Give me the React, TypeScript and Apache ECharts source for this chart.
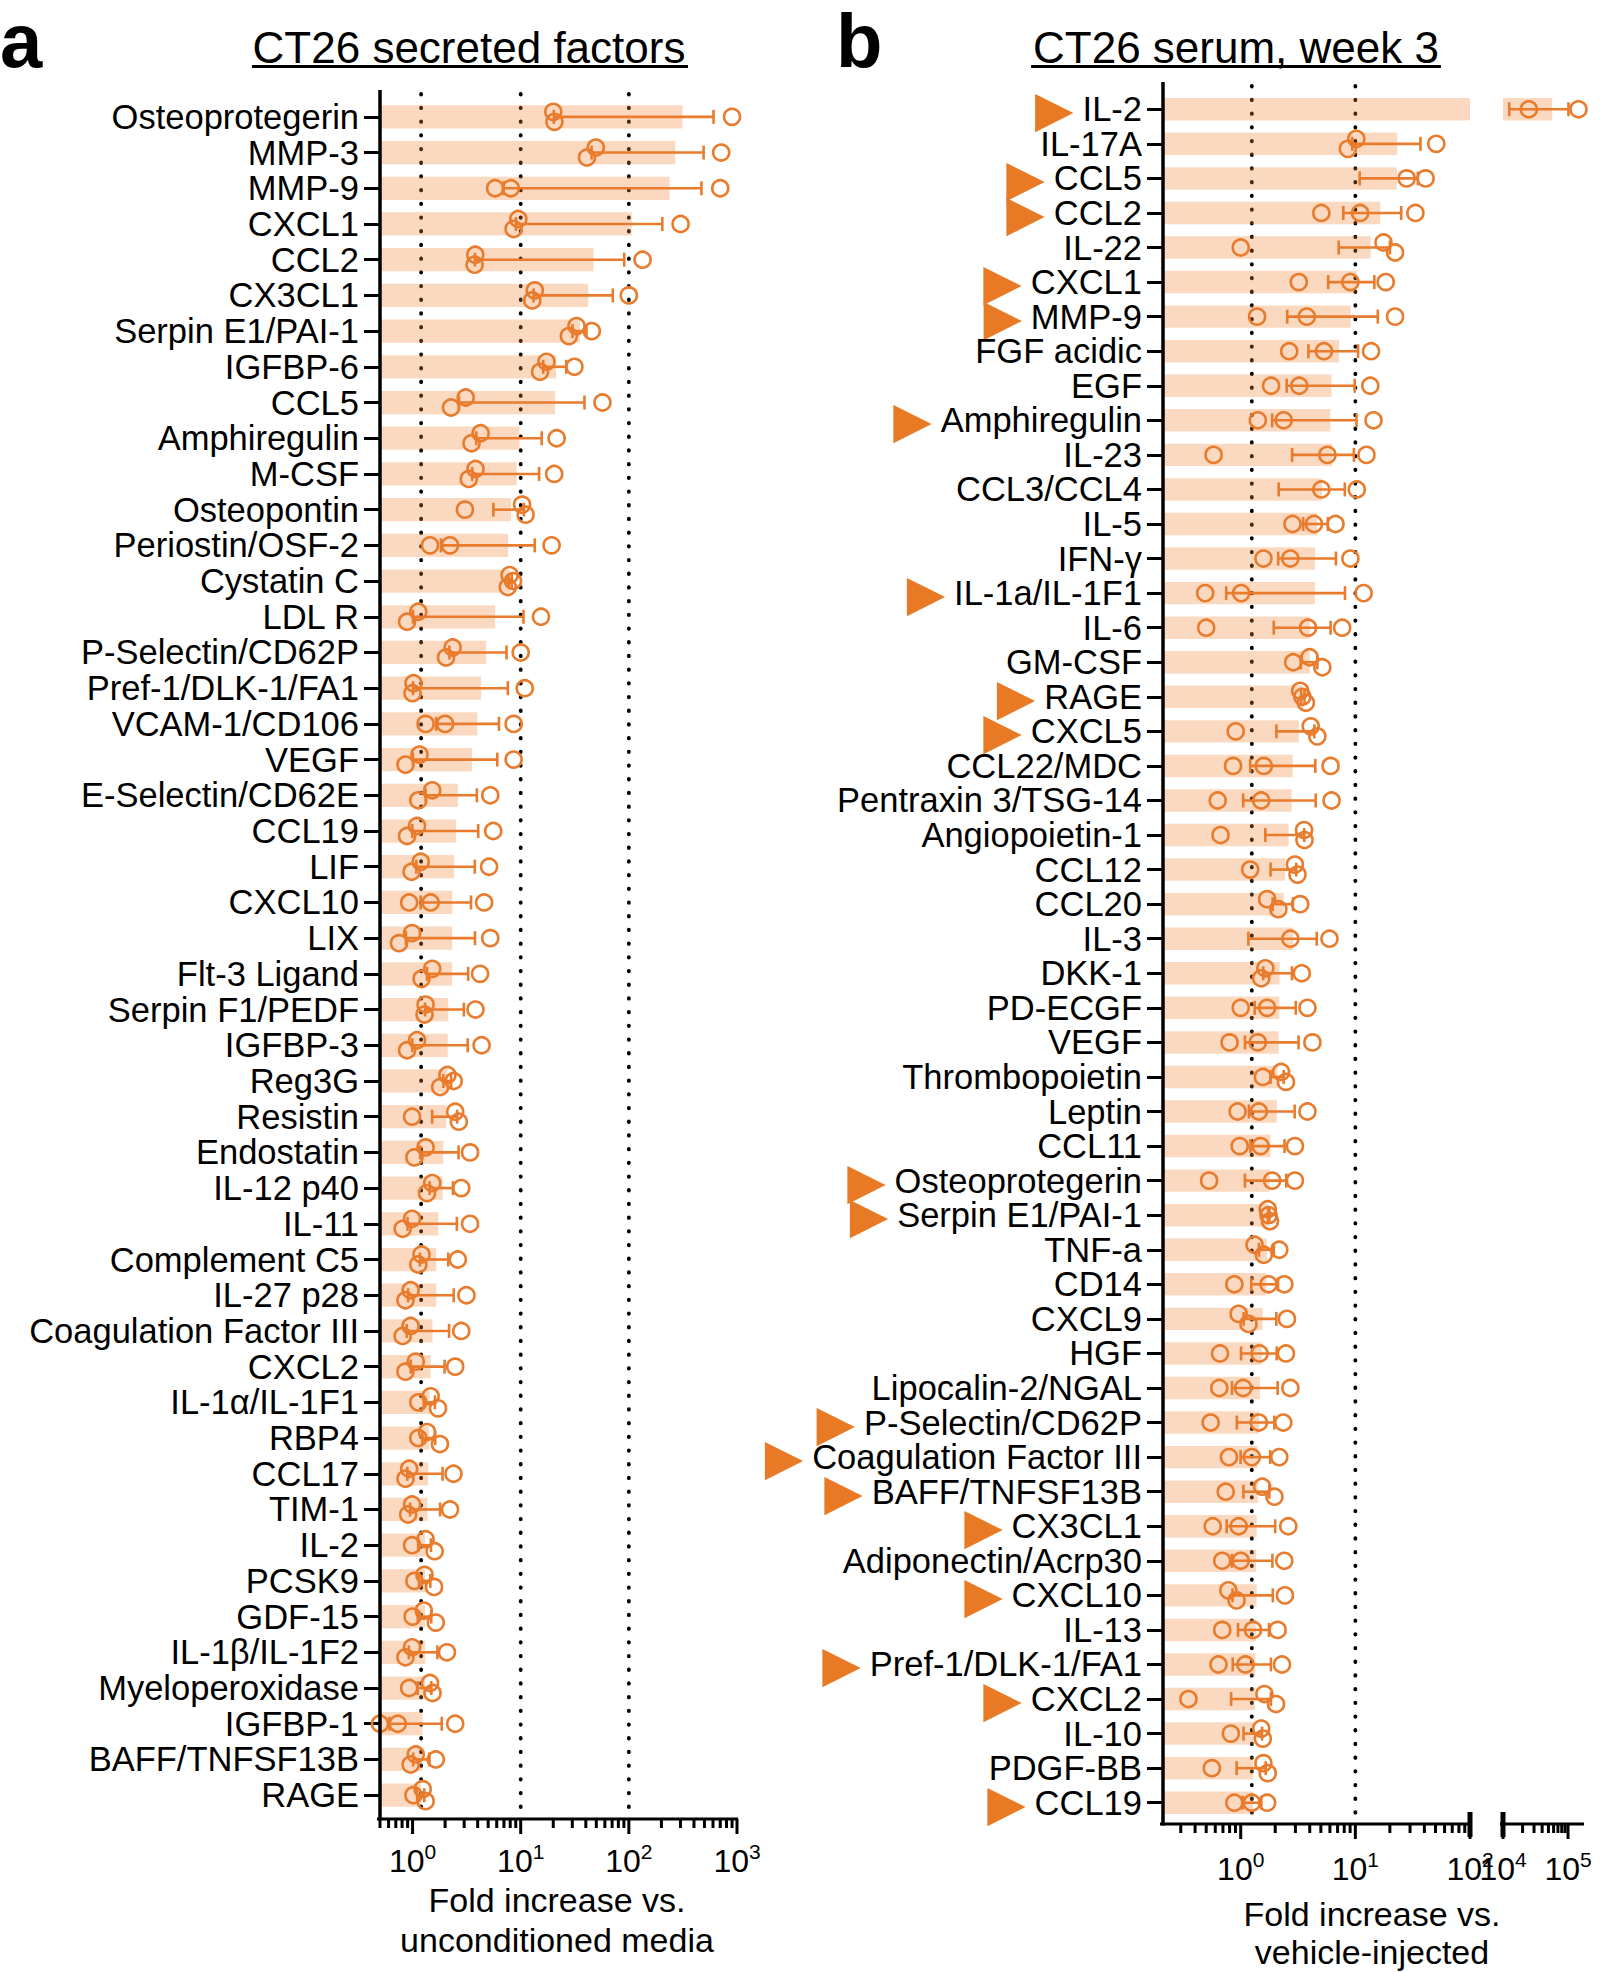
import React, { useEffect, useRef } from "react";
import * as echarts from "echarts";

// ---------------- DATA ----------------
const catsA = ["Osteoprotegerin","MMP-3","MMP-9","CXCL1","CCL2","CX3CL1","Serpin E1/PAI-1","IGFBP-6","CCL5","Amphiregulin","M-CSF","Osteopontin","Periostin/OSF-2","Cystatin C","LDL R","P-Selectin/CD62P","Pref-1/DLK-1/FA1","VCAM-1/CD106","VEGF","E-Selectin/CD62E","CCL19","LIF","CXCL10","LIX","Flt-3 Ligand","Serpin F1/PEDF","IGFBP-3","Reg3G","Resistin","Endostatin","IL-12 p40","IL-11","Complement C5","IL-27 p28","Coagulation Factor III","CXCL2","IL-1α/IL-1F1","RBP4","CCL17","TIM-1","IL-2","PCSK9","GDF-15","IL-1β/IL-1F2","Myeloperoxidase","IGFBP-1","BAFF/TNFSF13B","RAGE"];
const rep1A = [20, 49.5, 5.8, 9.5, 3.8, 13.5, 32.8, 17.3, 3.1, 4.26, 3.82, 3.05, 1.45, 7.9, 1.13, 2.35, 1.02, 1.32, 1.16, 1.52, 1.10, 1.19, 0.93, 0.99, 1.52, 1.32, 1.10, 2.1, 0.99, 1.32, 1.52, 0.99, 1.21, 0.96, 0.96, 1.07, 1.47, 1.36, 0.93, 0.99, 1.32, 1.29, 1.27, 0.99, 0.93, 0.5, 1.07, 1.24];
const rep2A = [20.5, 41, 8.1, 8.6, 3.75, 12.8, 27.9, 15.1, 2.27, 3.51, 3.31, 10.3, 2.22, 8.5, 0.89, 2.04, 1.0, 2.0, 0.86, 1.13, 0.89, 0.98, 1.47, 0.75, 1.21, 1.29, 0.89, 2.4, 2.48, 1.04, 1.36, 0.81, 1.13, 0.86, 0.81, 0.86, 1.13, 1.13, 0.86, 0.91, 0.99, 1.04, 1.0, 0.86, 1.45, 0.73, 0.96, 1.02];
const rep3A = [900, 714, 700, 301, 134, 100, 45.4, 31.4, 57, 21.5, 20.4, 11.1, 19.3, 7.6, 15.4, 10, 10.9, 8.6, 8.6, 5.23, 5.57, 5.1, 4.59, 5.23, 4.21, 3.82, 4.35, 1.8, 2.68, 3.40, 2.82, 3.4, 2.62, 3.15, 2.82, 2.48, 1.72, 1.79, 2.39, 2.22, 1.6, 1.58, 1.64, 2.08, 1.53, 2.48, 1.64, 1.32];

const catsB = ["IL-2","IL-17A","CCL5","CCL2","IL-22","CXCL1","MMP-9","FGF acidic","EGF","Amphiregulin","IL-23","CCL3/CCL4","IL-5","IFN-γ","IL-1a/IL-1F1","IL-6","GM-CSF","RAGE","CXCL5","CCL22/MDC","Pentraxin 3/TSG-14","Angiopoietin-1","CCL12","CCL20","IL-3","DKK-1","PD-ECGF","VEGF","Thrombopoietin","Leptin","CCL11","Osteoprotegerin","Serpin E1/PAI-1","TNF-a","CD14","CXCL9","HGF","Lipocalin-2/NGAL","P-Selectin/CD62P","Coagulation Factor III","BAFF/TNFSF13B","CX3CL1","Adiponectin/Acrp30","CXCL10","IL-13","Pref-1/DLK-1/FA1","CXCL2","IL-10","PDGF-BB","CCL19"];
const rep1B = [1000, 10.2, 28, 5.05, 1.0, 3.21, 1.39, 2.65, 1.84, 1.41, 0.58, 5.05, 2.83, 1.58, 0.49, 0.50, 2.87, 3.3, 0.905, 0.858, 0.63, 0.667, 1.21, 1.70, 2.71, 1.64, 1.0, 0.80, 1.56, 0.94, 0.98, 0.53, 1.72, 1.32, 0.88, 0.96, 0.66, 0.65, 0.547, 0.79, 0.74, 0.57, 0.69, 0.78, 0.69, 0.64, 0.35, 0.82, 0.56, 0.88];
const rep2B = [25000, 8.6, 41, 11.0, 17.6, 9.05, 3.77, 5.32, 3.24, 2.37, 5.7, 10.3, 4.36, 2.71, 1.01, 3.87, 3.99, 3.45, 4.08, 1.59, 1.51, 3.57, 2.97, 2.13, 5.95, 1.51, 1.70, 1.41, 2.25, 1.44, 1.49, 1.88, 1.75, 1.59, 1.75, 1.17, 1.46, 1.05, 1.44, 1.25, 1.54, 0.96, 1.0, 0.92, 1.28, 1.10, 1.61, 1.51, 1.58, 1.25];
const rep3B = [145000, 50.8, 0, 33.4, 22.2, 18.4, 22.2, 13.7, 13.5, 14.4, 12.5, 0, 6.71, 9.05, 11.8, 7.67, 5.15, 3.7, 4.66, 6.08, 6.2, 3.6, 3.13, 3.3, 0, 3.41, 3.82, 4.22, 2.48, 3.82, 2.97, 2.97, 1.8, 2.17, 2.40, 2.53, 2.48, 2.71, 2.35, 2.17, 1.97, 2.60, 2.40, 2.43, 2.10, 2.29, 2.03, 1.56, 1.72, 1.70];
const markedB = ["IL-2","CCL5","CCL2","CXCL1","MMP-9","Amphiregulin","IL-1a/IL-1F1","RAGE","CXCL5","Osteoprotegerin","Serpin E1/PAI-1","P-Selectin/CD62P","Coagulation Factor III","BAFF/TNFSF13B","CX3CL1","CXCL10","Pref-1/DLK-1/FA1","CXCL2","CCL19"];

const refLinesA = [1.2, 10, 100];
const refLinesB = [1.25, 10];
const majorExpA = [0, 1, 2, 3];
const majorExpB1 = [0, 1, 2];
const majorExpB2 = [4, 5];
const rangeA = [0.5, 1000];
const rangeB1 = [0.21, 100];
const rangeB2 = [10000, 170000];

// ---------------- STYLE ----------------
const ORANGE = "#E97B2C";
const BAR_FILL = "rgba(240,130,45,0.3)";
const FONT = "'Liberation Sans', Arial, Helvetica, sans-serif";

function buildRows(r1: number[], r2: number[], r3: number[]) {
  return r1.map((_, i) => {
    const pts = [r1[i], r2[i], r3[i]];
    const n = pts.length;
    const mean = pts.reduce((s, v) => s + v, 0) / n;
    const sd = Math.sqrt(pts.reduce((s, v) => s + (v - mean) ** 2, 0) / (n - 1));
    return [i, mean, sd / Math.sqrt(n), ...pts];
  });
}

function minorTicks(min: number, max: number) {
  const out: number[] = [];
  for (let e = Math.floor(Math.log10(min)); e <= Math.ceil(Math.log10(max)); e++) {
    for (let m = 2; m <= 9; m++) {
      const v = m * Math.pow(10, e);
      if (v >= min * 0.999 && v <= max * 1.001) out.push(v);
    }
  }
  return out;
}

const barsRender = (min: number, max: number) => (params: any, api: any) => {
  const cs = params.coordSys;
  const i = api.value(0);
  const mean = api.value(1);
  if (mean <= min) return null;
  const v = Math.min(mean, max);
  const x1 = api.coord([v, i])[0];
  const y = api.coord([min, i])[1];
  const h = api.size([0, 1])[1] * 0.65;
  return { type: "rect", shape: { x: cs.x, y: y - h / 2, width: x1 - cs.x, height: h }, style: { fill: BAR_FILL } };
};

const errRender = (min: number, max: number) => (params: any, api: any) => {
  const i = api.value(0);
  const mean = api.value(1);
  const sem = api.value(2);
  const lo = mean - sem;
  const hi = mean + sem;
  if (hi < min || lo > max) return null;
  const loIn = lo >= min;
  const hiIn = hi <= max;
  const lx = api.coord([loIn ? lo : min, i])[0];
  const hx = api.coord([hiIn ? hi : max, i])[0];
  const y = api.coord([min, i])[1];
  const st = { stroke: ORANGE, lineWidth: 2.6 };
  const ch: any[] = [{ type: "line", shape: { x1: lx, y1: y, x2: hx, y2: y }, style: st }];
  if (loIn) ch.push({ type: "line", shape: { x1: lx, y1: y - 7, x2: lx, y2: y + 7 }, style: st });
  if (hiIn) ch.push({ type: "line", shape: { x1: hx, y1: y - 7, x2: hx, y2: y + 7 }, style: st });
  return { type: "group", children: ch };
};

const ptsRender = (min: number, max: number) => (params: any, api: any) => {
  const i = api.value(0);
  const vals = [api.value(3), api.value(4), api.value(5)];
  const y = api.coord([min, i])[1];
  const items: any[] = [];
  vals.forEach((v: number, k: number) => {
    if (v >= min && v <= max) items.push({ k, x: api.coord([v, i])[0], dy: 0 });
  });
  const sorted = [...items].sort((a, b) => a.x - b.x);
  const clusters: any[][] = [];
  let cur: any[] = [];
  sorted.forEach((it) => {
    if (cur.length && it.x - cur[cur.length - 1].x >= 15) { clusters.push(cur); cur = []; }
    cur.push(it);
  });
  if (cur.length) clusters.push(cur);
  clusters.forEach((c) => {
    c.sort((a, b) => a.k - b.k);
    const offs = c.length === 1 ? [0] : c.length === 2 ? [-5, 5] : [-6, 0, 6];
    c.forEach((it, j) => (it.dy = offs[j]));
  });
  return {
    type: "group",
    children: items.map((it) => ({
      type: "circle",
      shape: { cx: it.x, cy: y + it.dy, r: 8 },
      style: { fill: "none", stroke: ORANGE, lineWidth: 2.6 },
    })),
  };
};

const refRender = (vals: number[], topExt: number) => (params: any, api: any) => {
  const cs = params.coordSys;
  return {
    type: "group",
    children: vals.map((v) => {
      const x = api.coord([v, 0])[0];
      return {
        type: "line",
        shape: { x1: x, y1: cs.y - topExt + 4, x2: x, y2: cs.y + cs.height },
        style: { stroke: "#000", lineWidth: 3.8, lineDash: [0.5, 13.2], lineCap: "round" },
      };
    }),
  };
};

type AxisCfg = {
  min: number; max: number; majorExp: number[]; offset: number; topExt: number;
  vertical: boolean; breakLeft: boolean; breakRight: boolean; leftExt: number; labelGap: number;
};

const axisRender = (cfg: AxisCfg) => (params: any, api: any) => {
  const cs = params.coordSys;
  const yb = cs.y + cs.height + cfg.offset;
  const xl = api.coord([cfg.min, 0])[0];
  const xr = api.coord([cfg.max, 0])[0];
  const ch: any[] = [];
  ch.push({ type: "line", shape: { x1: xl - cfg.leftExt, y1: yb, x2: xr + 1, y2: yb }, style: { stroke: "#000", lineWidth: 3 } });
  if (cfg.vertical) {
    ch.push({ type: "line", shape: { x1: xl, y1: cs.y - cfg.topExt, x2: xl, y2: yb + 1.5 }, style: { stroke: "#000", lineWidth: 3.5 } });
  }
  minorTicks(cfg.min, cfg.max).forEach((v) => {
    const x = api.coord([v, 0])[0];
    ch.push({ type: "line", shape: { x1: x, y1: yb, x2: x, y2: yb + 9 }, style: { stroke: "#000", lineWidth: 3 } });
  });
  cfg.majorExp.forEach((e) => {
    const x = api.coord([Math.pow(10, e), 0])[0];
    ch.push({ type: "line", shape: { x1: x, y1: yb, x2: x, y2: yb + 15 }, style: { stroke: "#000", lineWidth: 3 } });
    ch.push({
      type: "text",
      x,
      y: yb + cfg.labelGap,
      style: {
        text: `{b|10}{s|${e}}`,
        align: "center",
        verticalAlign: "middle",
        fill: "#000",
        rich: {
          b: { fontSize: 32, fontFamily: FONT, fill: "#000", lineHeight: 36, verticalAlign: "bottom" },
          s: { fontSize: 21, fontFamily: FONT, fill: "#000", lineHeight: 22, verticalAlign: "top" },
        },
      },
    });
  });
  if (cfg.breakRight) ch.push({ type: "line", shape: { x1: xr, y1: yb - 12, x2: xr, y2: yb + 13 }, style: { stroke: "#000", lineWidth: 5 } });
  if (cfg.breakLeft) ch.push({ type: "line", shape: { x1: xl, y1: yb - 12, x2: xl, y2: yb + 13 }, style: { stroke: "#000", lineWidth: 5 } });
  return { type: "group", children: ch };
};

function buildOption() {
  const rowsA = buildRows(rep1A, rep2A, rep3A);
  const rowsB = buildRows(rep1B, rep2B, rep3B);
  const enc = { x: 1, y: 0 };

  const xAxisBase = (gi: number, r: number[]) => ({
    type: "log", gridIndex: gi, logBase: 10, min: r[0], max: r[1],
    axisLine: { show: false }, axisTick: { show: false }, axisLabel: { show: false }, splitLine: { show: false },
  });
  const yLabel = { interval: 0, margin: 21, fontSize: 34.5, lineHeight: 34, fontFamily: FONT, color: "#000" };
  const yTick = { show: true, alignWithLabel: true, length: 16, interval: 0, lineStyle: { color: "#000", width: 3 } };

  const panelSeries = (xi: number, rows: any[], r: number[]) => [
    { type: "custom", xAxisIndex: xi, yAxisIndex: xi, data: rows, encode: enc, renderItem: barsRender(r[0], r[1]), z: 2, silent: true },
    { type: "custom", xAxisIndex: xi, yAxisIndex: xi, data: rows, encode: enc, renderItem: errRender(r[0], r[1]), z: 3, silent: true },
    { type: "custom", xAxisIndex: xi, yAxisIndex: xi, data: rows, encode: enc, renderItem: ptsRender(r[0], r[1]), z: 4, silent: true },
  ];

  return {
    animation: false,
    backgroundColor: "#fff",
    grid: [
      { left: 380, top: 99, width: 357, height: 1714 },
      { left: 1163, top: 92, width: 307, height: 1728 },
      { left: 1503, top: 92, width: 80, height: 1728 },
    ],
    xAxis: [xAxisBase(0, rangeA), xAxisBase(1, rangeB1), xAxisBase(2, rangeB2)],
    yAxis: [
      { type: "category", gridIndex: 0, data: catsA, inverse: true, axisLine: { show: false }, axisTick: yTick, axisLabel: yLabel, splitLine: { show: false } },
      {
        type: "category", gridIndex: 1, data: catsB, inverse: true, axisLine: { show: false }, axisTick: yTick,
        axisLabel: {
          ...yLabel,
          formatter: (v: string) => (markedB.includes(v) ? `{tri|\u25B6}${v}` : v),
          rich: { tri: { fontFamily: "'DejaVu Sans'", fontSize: 50, lineHeight: 34, color: "#E87A25", padding: [0, 9, 0, 0] } },
        },
        splitLine: { show: false },
      },
      { type: "category", gridIndex: 2, data: catsB, inverse: true, show: false },
    ],
    series: [
      { type: "custom", xAxisIndex: 0, yAxisIndex: 0, data: [[0, 1]], encode: enc, renderItem: refRender(refLinesA, 9), z: 1, silent: true },
      { type: "custom", xAxisIndex: 1, yAxisIndex: 1, data: [[0, 1]], encode: enc, renderItem: refRender(refLinesB, 10), z: 1, silent: true },
      ...panelSeries(0, rowsA, rangeA),
      ...panelSeries(1, rowsB, rangeB1),
      ...panelSeries(2, rowsB, rangeB2),
      {
        type: "custom", xAxisIndex: 0, yAxisIndex: 0, data: [[0, 1]], encode: enc, z: 5, silent: true,
        renderItem: axisRender({ min: rangeA[0], max: rangeA[1], majorExp: majorExpA, offset: 6, topExt: 9, vertical: true, breakLeft: false, breakRight: false, leftExt: 3, labelGap: 40 }),
      },
      {
        type: "custom", xAxisIndex: 1, yAxisIndex: 1, data: [[0, 1]], encode: enc, z: 5, silent: true,
        renderItem: axisRender({ min: rangeB1[0], max: rangeB1[1], majorExp: majorExpB1, offset: 4, topExt: 10, vertical: true, breakLeft: false, breakRight: true, leftExt: 3, labelGap: 43 }),
      },
      {
        type: "custom", xAxisIndex: 2, yAxisIndex: 2, data: [[0, 10000]], encode: enc, z: 5, silent: true,
        renderItem: axisRender({ min: rangeB2[0], max: rangeB2[1], majorExp: majorExpB2, offset: 4, topExt: 0, vertical: false, breakLeft: true, breakRight: false, leftExt: 3, labelGap: 43 }),
      },
    ],
    graphic: [
      { type: "text", x: 0, y: 40, style: { text: "a", fontSize: 76, lineHeight: 60, fontWeight: "bold", fontFamily: FONT, fill: "#000", align: "left", verticalAlign: "middle" } },
      { type: "text", x: 836, y: 40, style: { text: "b", fontSize: 76, lineHeight: 60, fontWeight: "bold", fontFamily: FONT, fill: "#000", align: "left", verticalAlign: "middle" } },
      { type: "text", x: 469, y: 47, style: { text: "CT26 secreted factors", fontSize: 44, fontFamily: FONT, fill: "#000", align: "center", verticalAlign: "middle" } },
      { type: "rect", shape: { x: 252, y: 65, width: 436, height: 3 }, style: { fill: "#000" } },
      { type: "text", x: 1236, y: 47, style: { text: "CT26 serum, week 3", fontSize: 44, fontFamily: FONT, fill: "#000", align: "center", verticalAlign: "middle" } },
      { type: "rect", shape: { x: 1031, y: 65, width: 410, height: 3 }, style: { fill: "#000" } },
      { type: "text", x: 557, y: 1920, style: { text: "Fold increase vs.\nunconditioned media", fontSize: 34, lineHeight: 40, fontFamily: FONT, fill: "#000", align: "center", verticalAlign: "middle" } },
      { type: "text", x: 1372, y: 1933, style: { text: "Fold increase vs.\nvehicle-injected", fontSize: 34, lineHeight: 38, fontFamily: FONT, fill: "#000", align: "center", verticalAlign: "middle" } },
    ],
  };
}

export default function App() {
  const ref = useRef<HTMLDivElement>(null);
  useEffect(() => {
    if (!ref.current) return;
    const chart = echarts.init(ref.current, null, { renderer: "svg" });
    chart.setOption(buildOption() as any);
    return () => chart.dispose();
  }, []);
  return <div ref={ref} style={{ position: "fixed", left: 0, top: 0, width: 1600, height: 1972, background: "#fff" }} />;
}
